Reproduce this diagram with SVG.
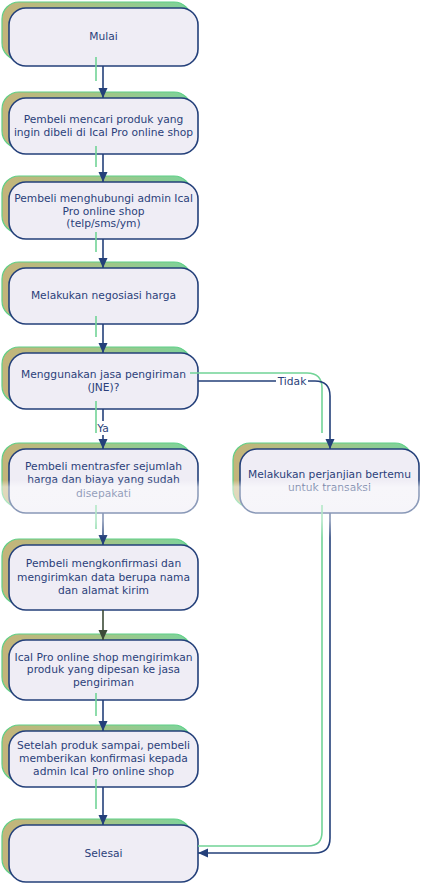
<svg xmlns="http://www.w3.org/2000/svg" width="421" height="883" viewBox="0 0 421 883">
<defs>
<linearGradient id="sh" x1="0" y1="0" x2="1" y2="0">
<stop offset="0" stop-color="#c4b47a"/>
<stop offset="0.45" stop-color="#a9c283"/>
<stop offset="1" stop-color="#7dd39b"/>
</linearGradient>
<linearGradient id="wm" x1="0" y1="0" x2="0" y2="1">
<stop offset="0" stop-color="#ffffff" stop-opacity="0"/>
<stop offset="0.12" stop-color="#ffffff" stop-opacity="0.5"/>
<stop offset="0.7" stop-color="#ffffff" stop-opacity="0.45"/>
<stop offset="1" stop-color="#ffffff" stop-opacity="0"/>
</linearGradient>
<marker id="ar" markerUnits="userSpaceOnUse" markerWidth="11" markerHeight="10" refX="10" refY="4.5" orient="auto">
<path d="M0,0 L10,4.5 L0,9 z" fill="#24407a"/>
</marker>
<marker id="ar2" markerUnits="userSpaceOnUse" markerWidth="11" markerHeight="10" refX="10" refY="4.5" orient="auto">
<path d="M0,0 L10,4.5 L0,9 z" fill="#3d4c38"/>
</marker>
</defs>
<style>
.sh{fill:url(#sh);stroke:#5fd087;stroke-width:1.2}
.bx{fill:#efedf5;stroke:#24407a;stroke-width:1.6}
text{font-family:"DejaVu Sans",Verdana,sans-serif;font-size:10.7px;fill:#2b3f7a;text-anchor:middle}
.c{fill:none;stroke:#24407a;stroke-width:1.6}
.g{fill:none;stroke:#72d497;stroke-width:1.6}
</style>
<rect width="421" height="883" fill="#ffffff"/>

<g id="n1">
<rect class="sh" x="2" y="2" width="189" height="58" rx="17"/>
<rect class="bx" x="9" y="8" width="189" height="58" rx="17"/>
<text x="103.5" y="40">Mulai</text>
</g>
<g id="n2">
<rect class="sh" x="2" y="92" width="189" height="56" rx="17"/>
<rect class="bx" x="9" y="98" width="189" height="56" rx="17"/>
<text x="103.5" y="123">Pembeli mencari produk yang</text>
<text x="103.5" y="135.6">ingin dibeli di Ical Pro online shop</text>
</g>
<g id="n3">
<rect class="sh" x="2" y="176" width="189" height="57" rx="17"/>
<rect class="bx" x="9" y="182" width="189" height="57" rx="17"/>
<text x="103.5" y="201.5">Pembeli menghubungi admin Ical</text>
<text x="103.5" y="214.6">Pro online shop</text>
<text x="103.5" y="226.6">(telp/sms/ym)</text>
</g>
<g id="n4">
<rect class="sh" x="2" y="262" width="189" height="56" rx="17"/>
<rect class="bx" x="9" y="268" width="189" height="56" rx="17"/>
<text x="103.5" y="299">Melakukan negosiasi harga</text>
</g>
<g id="n5">
<rect class="sh" x="2" y="347" width="189" height="56" rx="17"/>
<rect class="bx" x="9" y="353" width="189" height="56" rx="17"/>
<text x="103.5" y="378">Menggunakan jasa pengiriman</text>
<text x="103.5" y="390.6">(JNE)?</text>
</g>
<g id="n6">
<rect class="sh" x="2" y="443" width="189" height="64" rx="17"/>
<rect class="bx" x="9" y="449" width="189" height="64" rx="17"/>
<text x="103.5" y="470">Pembeli mentrasfer sejumlah</text>
<text x="103.5" y="483.2">harga dan biaya yang sudah</text>
<text x="103.5" y="496.8">disepakati</text>
</g>
<g id="n7">
<rect class="sh" x="233" y="443" width="179" height="64" rx="17"/>
<rect class="bx" x="240" y="449" width="179" height="64" rx="17"/>
<text x="329.5" y="478">Melakukan perjanjian bertemu</text>
<text x="329.5" y="490.6">untuk transaksi</text>
</g>
<g id="n8">
<rect class="sh" x="2" y="539" width="189" height="65" rx="17"/>
<rect class="bx" x="9" y="545" width="189" height="65" rx="17"/>
<text x="103.5" y="567.3">Pembeli mengkonfirmasi dan</text>
<text x="103.5" y="580.6">mengirimkan data berupa nama</text>
<text x="103.5" y="593.9">dan alamat kirim</text>
</g>
<g id="n9">
<rect class="sh" x="2" y="634" width="189" height="60" rx="17"/>
<rect class="bx" x="9" y="640" width="189" height="60" rx="17"/>
<text x="103.5" y="660.6">Ical Pro online shop mengirimkan</text>
<text x="103.5" y="673.3">produk yang dipesan ke jasa</text>
<text x="103.5" y="686.2">pengiriman</text>
</g>
<g id="n10">
<rect class="sh" x="2" y="725" width="189" height="56" rx="17"/>
<rect class="bx" x="9" y="731" width="189" height="56" rx="17"/>
<text x="103.5" y="749">Setelah produk sampai, pembeli</text>
<text x="103.5" y="761.6">memberikan konfirmasi kepada</text>
<text x="103.5" y="774.5">admin Ical Pro online shop</text>
</g>
<g id="n11">
<rect class="sh" x="2" y="819" width="189" height="57" rx="17"/>
<rect class="bx" x="9" y="825" width="189" height="57" rx="17"/>
<text x="103.5" y="856.6">Selesai</text>
</g>

<g id="connectors">
<path class="g" d="M96,57 V81 M96,146 V167 M96,232 V252 M96,316 V337 M96,401 V433 M96,505 V529 M96,693 V716 M96,779 V809"/>
<path class="g" d="M190,373 H307 Q322,373 322,388 V433"/>
<path class="g" d="M322,505 V832 Q322,846 308,846 H198"/>
<path class="c" d="M103,66 V98" marker-end="url(#ar)"/>
<path class="c" d="M103,154 V182" marker-end="url(#ar)"/>
<path class="c" d="M103,239 V268" marker-end="url(#ar)"/>
<path class="c" d="M103,324 V353" marker-end="url(#ar)"/>
<path class="c" d="M103,409 V449" marker-end="url(#ar)"/>
<path class="c" d="M103,513 V545" marker-end="url(#ar)"/>
<path class="c" d="M103,610 V640" style="stroke:#3d4c38" marker-end="url(#ar2)"/>
<path class="c" d="M103,700 V731" marker-end="url(#ar)"/>
<path class="c" d="M103,787 V825" marker-end="url(#ar)"/>
<path class="c" d="M198,381 H315 Q330,381 330,396 V449" marker-end="url(#ar)"/>
<path class="c" d="M330,513 V838 Q330,853 315,853 H198" marker-end="url(#ar)"/>
<rect x="98" y="421" width="12" height="14" fill="#ffffff"/>
<text x="103" y="432">Ya</text>
<rect x="276" y="375" width="32" height="13" fill="#ffffff"/>
<text x="292" y="385">Tidak</text>
</g>
<rect x="0" y="480" width="421" height="58" fill="url(#wm)"/>
</svg>
